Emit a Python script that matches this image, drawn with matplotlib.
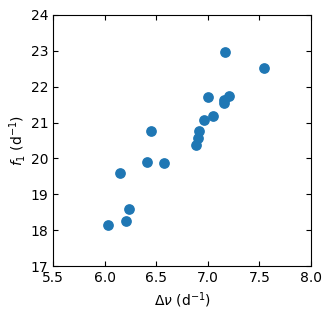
import matplotlib.pyplot as plt
import numpy as np

# large separation vs f1 (both in d^-1)
dnu = [7.167, 7.548, 7.002, 7.20, 7.154, 7.154, 7.05, 6.966, 6.453, 6.918,
       6.902, 6.886, 6.41, 6.57, 6.149, 6.233, 6.204, 6.033]
f1 = [22.96, 22.51, 21.70, 21.73, 21.64, 21.53, 21.18, 21.06, 20.76, 20.75,
      20.57, 20.37, 19.89, 19.86, 19.59, 18.59, 18.25, 18.14]

fig = plt.figure(figsize=(3.32, 3.16), dpi=100)
ax = fig.add_axes([0.160, 0.158, 0.777, 0.795])
ax.scatter(dnu, f1, s=45, color='#1f77b4')
ax.set_xlim(5.5, 8.0)
ax.set_ylim(17, 24)
ax.set_xticks(np.arange(5.5, 8.01, 0.5))
ax.set_yticks(np.arange(17, 25, 1))
ax.tick_params(direction='in', top=True, right=True)
ax.set_xlabel(r'$\Delta\nu$ (d$^{-1}$)')
ax.set_ylabel(r'$f_1$ (d$^{-1}$)', labelpad=2)
fig.savefig('out.png', dpi=100)
